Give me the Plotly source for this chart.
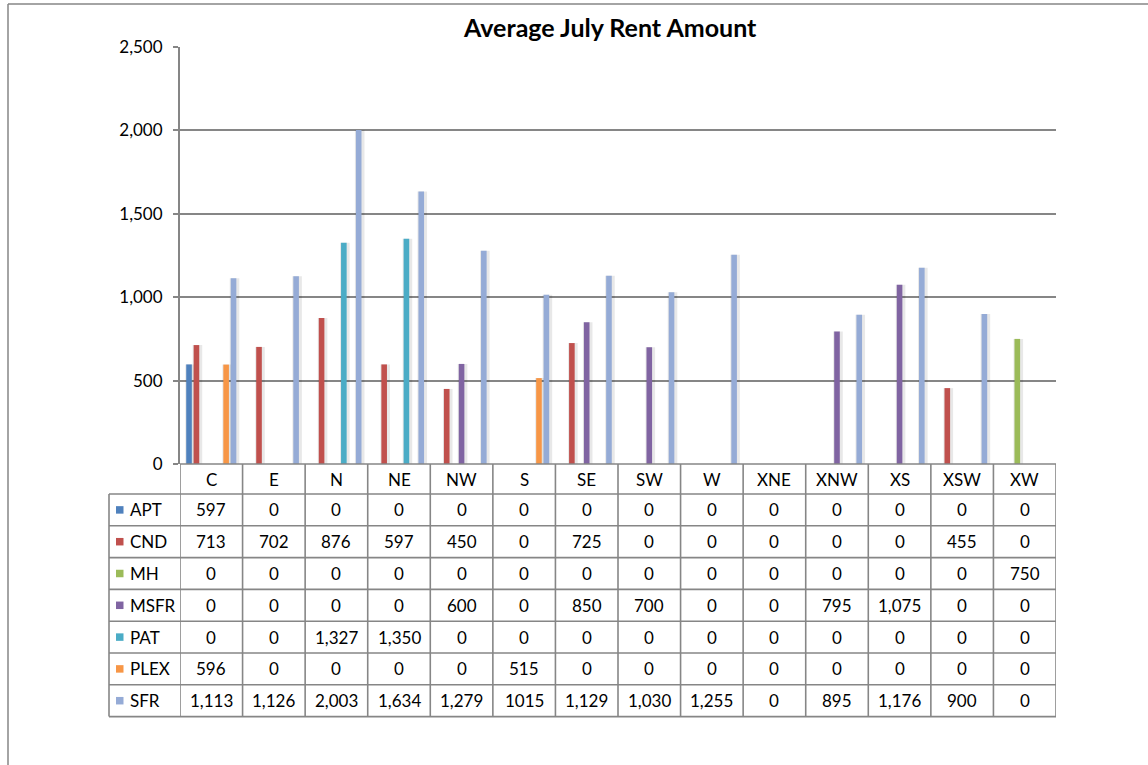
import plotly.graph_objects as go

categories = ["C", "E", "N", "NE", "NW", "S", "SE", "SW", "W", "XNE", "XNW", "XS", "XSW", "XW"]
series_names = ["APT", "CND", "MH", "MSFR", "PAT", "PLEX", "SFR"]
apt = [597, 0, 0, 0, 0, 0, 0, 0, 0, 0, 0, 0, 0, 0]
cnd = [713, 702, 876, 597, 450, 0, 725, 0, 0, 0, 0, 0, 455, 0]
mh = [0, 0, 0, 0, 0, 0, 0, 0, 0, 0, 0, 0, 0, 750]
msfr = [0, 0, 0, 0, 600, 0, 850, 700, 0, 0, 795, 1075, 0, 0]
pat = [0, 0, 1327, 1350, 0, 0, 0, 0, 0, 0, 0, 0, 0, 0]
plex = [596, 0, 0, 0, 0, 515, 0, 0, 0, 0, 0, 0, 0, 0]
sfr = [1113, 1126, 2003, 1634, 1279, 1015, 1129, 1030, 1255, 0, 895, 1176, 900, 0]
series_values = [apt, cnd, mh, msfr, pat, plex, sfr]
colors = ["#4F81BD", "#C0504D", "#9BBB59", "#8064A2", "#4BACC6", "#F79646", "#95ABD6"]
# cell text shown without thousands separator in the source table
text_overrides = {("SFR", "S"): "1015"}
y_ticks = [0, 500, 1000, 1500, 2000, 2500]

W, H = 1148, 765
PL, PR, PT, PB = 180, 1056, 47, 464
FONT = "Lato, 'Noto Sans', sans-serif"
GRID = "#868686"
FS = 17

def px(x):
    return (x - PL) / (PR - PL)

def py(y):
    return (PB - y) / (PB - PT)

n = len(series_names)
bargap = 0.17
slot = (1 - bargap) / n
unit = 1 / ((PR - PL) / len(categories))  # one pixel in category units
bw = 5.6 * unit

fig = go.Figure()
xs = list(range(len(categories)))
for i, (name, vals, col) in enumerate(zip(series_names, series_values, colors)):
    center = -(1 - bargap) / 2 + slot * (i + 0.5)
    # soft shadow
    fig.add_trace(go.Bar(x=xs, y=vals, width=bw + 4 * unit, offset=center - bw / 2 - 1 * unit,
                         marker=dict(color="rgba(0,0,0,0.09)", line=dict(width=0)),
                         showlegend=False, hoverinfo="skip"))
    fig.add_trace(go.Bar(x=xs, y=vals, name=name, width=bw, offset=center - bw / 2,
                         marker=dict(color=col, line=dict(width=0)), showlegend=False))

shapes = []
line = dict(color=GRID, width=1.6)
row_tops = [494 + 31.8 * k for k in range(n + 1)]
header_top = PB
x_left_legend = px(109)
shapes.append(dict(type="line", xref="x", yref="paper", x0=-0.5, x1=len(categories) - 0.5,
                   y0=py(header_top), y1=py(header_top), line=line))
for yy in row_tops:
    shapes.append(dict(type="line", xref="paper", yref="paper", x0=x_left_legend, x1=1,
                       y0=py(yy), y1=py(yy), line=line))
for k in range(len(categories) + 1):
    shapes.append(dict(type="line", xref="x", yref="paper", x0=k - 0.5, x1=k - 0.5,
                       y0=py(header_top), y1=py(row_tops[-1]), line=line))
shapes.append(dict(type="line", xref="paper", yref="paper", x0=x_left_legend, x1=x_left_legend,
                   y0=py(row_tops[0]), y1=py(row_tops[-1]), line=line))
# outer chart frame
shapes.append(dict(type="line", xref="paper", yref="paper", x0=px(8), x1=px(8),
                   y0=py(4), y1=py(H + 5), line=dict(color=GRID, width=1.5)))
shapes.append(dict(type="line", xref="paper", yref="paper", x0=px(8), x1=px(W + 5),
                   y0=py(4), y1=py(4), line=dict(color=GRID, width=1.5)))

annotations = []
annotations.append(dict(text="<b>Average July Rent Amount</b>", xref="paper", yref="paper",
                        x=px(610), y=py(27), showarrow=False, xanchor="center", yanchor="middle",
                        font=dict(size=25, color="black", family=FONT)))
for k, c in enumerate(categories):
    annotations.append(dict(text=c, xref="x", yref="paper", x=k, y=py(479), showarrow=False,
                            xanchor="center", yanchor="middle", font=dict(size=FS, color="black", family=FONT)))
for r, (name, vals, col) in enumerate(zip(series_names, series_values, colors)):
    yc = (row_tops[r] + row_tops[r + 1]) / 2
    shapes.append(dict(type="rect", xref="paper", yref="paper", x0=px(116), x1=px(123.5),
                       y0=py(yc - 3.75), y1=py(yc + 3.75), fillcolor=col, line=dict(width=0)))
    annotations.append(dict(text=name, xref="paper", yref="paper", x=px(128), y=py(yc), showarrow=False,
                            xanchor="left", yanchor="middle", font=dict(size=FS, color="black", family=FONT)))
    for k, (c, v) in enumerate(zip(categories, vals)):
        t = text_overrides.get((name, c), f"{v:,}")
        annotations.append(dict(text=t, xref="x", yref="paper", x=k, y=py(yc), showarrow=False,
                                xanchor="center", yanchor="middle", font=dict(size=FS, color="black", family=FONT)))

fig.update_layout(
    width=W, height=H, autosize=False,
    margin=dict(l=PL, r=W - PR, t=PT, b=H - PB, pad=0),
    paper_bgcolor="white", plot_bgcolor="white",
    barmode="overlay",
    font=dict(family=FONT, size=FS, color="black"),
    xaxis=dict(range=[-0.5, len(categories) - 0.5], showticklabels=False, showgrid=False,
               zeroline=False, showline=False, ticks="", fixedrange=True),
    yaxis=dict(range=[0, 2500], tickvals=y_ticks, tickformat=",", showgrid=True, gridcolor=GRID,
               gridwidth=2, zeroline=False, showline=True, linecolor=GRID, linewidth=2,
               ticks="outside", ticklen=5, tickcolor=GRID, tickwidth=2,
               tickfont=dict(size=FS, color="black", family=FONT), ticklabelstandoff=7),
    shapes=shapes, annotations=annotations,
)
fig.write_html("out.html", config={"displayModeBar": False},
               post_script="document.body.style.margin='0';document.body.style.overflow='hidden';")
